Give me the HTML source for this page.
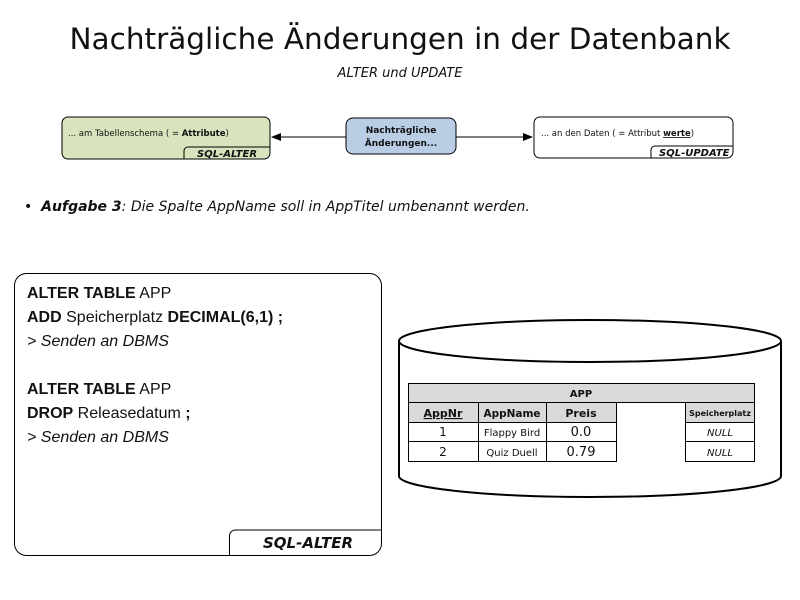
<!DOCTYPE html>
<html><head><meta charset="utf-8"><style>
body{margin:0;width:800px;height:600px;background:#fff;position:relative;overflow:hidden;font-family:"Liberation Sans",sans-serif}
.a{position:absolute}
.t{font-family:"DejaVu Sans","Liberation Sans",sans-serif}
.code{font-size:16px;line-height:24px;color:#111}
</style></head><body>
<div class="a t" style="left:0;top:22px;width:800px;text-align:center;font-size:29.5px;color:#111">Nachträgliche Änderungen in der Datenbank</div>
<div class="a t" style="left:0;top:66px;width:800px;text-align:center;font-size:13px;font-style:italic;color:#111">ALTER und UPDATE</div>

<svg class="a" style="left:0;top:0" width="800" height="600">
<defs><marker id="ar" markerWidth="10" markerHeight="8" refX="9" refY="4" orient="auto" markerUnits="userSpaceOnUse"><path d="M0,0L10,4L0,8z" fill="#000"/></marker></defs>
<rect x="62" y="117" width="208" height="42" rx="6" fill="#d7e4bd" stroke="#000"/>
<path d="M184,159V151a4,4 0 0 1 4,-4H270" fill="none" stroke="#000"/>
<rect x="346" y="118" width="110" height="36" rx="7" fill="#b9cde5" stroke="#000"/>
<rect x="534" y="117" width="199" height="41" rx="6" fill="#fff" stroke="#000"/>
<path d="M651,158V150a4,4 0 0 1 4,-4H733" fill="none" stroke="#000"/>
<line x1="346" y1="137" x2="272" y2="137" stroke="#000" marker-end="url(#ar)"/>
<line x1="456" y1="137" x2="532" y2="137" stroke="#000" marker-end="url(#ar)"/>
<rect x="14.5" y="273.5" width="367" height="282" rx="12" fill="#fff" stroke="#000"/>
<path d="M229.5,555V536a6,6 0 0 1 6,-6H381" fill="none" stroke="#000"/>
<path d="M399,341V476A191,21 0 0 0 781,476V341" fill="#fff" stroke="#000" stroke-width="2"/>
<ellipse cx="590" cy="341" rx="191" ry="21" fill="#fff" stroke="#000" stroke-width="2"/>
<rect x="408.5" y="383.5" width="346" height="19" fill="#d9d9d9" stroke="#000"/>
<rect x="408.5" y="402.5" width="70" height="20" fill="#d9d9d9" stroke="#000"/>
<rect x="478.5" y="402.5" width="68" height="20" fill="#d9d9d9" stroke="#000"/>
<rect x="546.5" y="402.5" width="70" height="20" fill="#d9d9d9" stroke="#000"/>
<rect x="685.5" y="402.5" width="69" height="20" fill="#d9d9d9" stroke="#000"/>
<rect x="408.5" y="422.5" width="70" height="19" fill="#fff" stroke="#000"/>
<rect x="478.5" y="422.5" width="68" height="19" fill="#fff" stroke="#000"/>
<rect x="546.5" y="422.5" width="70" height="19" fill="#fff" stroke="#000"/>
<rect x="685.5" y="422.5" width="69" height="19" fill="#fff" stroke="#000"/>
<rect x="408.5" y="441.5" width="70" height="20" fill="#fff" stroke="#000"/>
<rect x="478.5" y="441.5" width="68" height="20" fill="#fff" stroke="#000"/>
<rect x="546.5" y="441.5" width="70" height="20" fill="#fff" stroke="#000"/>
<rect x="685.5" y="441.5" width="69" height="20" fill="#fff" stroke="#000"/>
<g font-family="DejaVu Sans, sans-serif" text-anchor="middle" fill="#111">
<text x="581" y="397" font-size="10" font-weight="bold">APP</text>
<text x="443" y="417" font-size="11" font-weight="bold" text-decoration="underline">AppNr</text>
<text x="512" y="417" font-size="10.5" font-weight="bold">AppName</text>
<text x="581" y="417" font-size="11" font-weight="bold">Preis</text>
<text x="720" y="416" font-size="8" font-weight="bold">Speicherplatz</text>
<text x="443" y="436" font-size="12">1</text>
<text x="512" y="436" font-size="10">Flappy Bird</text>
<text x="581" y="436" font-size="13">0.0</text>
<text x="720" y="436" font-size="10" font-style="italic">NULL</text>
<text x="443" y="456" font-size="12">2</text>
<text x="512" y="456" font-size="10">Quiz Duell</text>
<text x="581" y="456" font-size="13">0.79</text>
<text x="720" y="456" font-size="10" font-style="italic">NULL</text>
<text x="401" y="133" font-size="9" font-weight="bold">Nachträgliche</text>
<text x="401" y="146" font-size="9" font-weight="bold">Änderungen...</text>
</g>
<g font-family="DejaVu Sans, sans-serif" fill="#111">
<text x="68" y="136" font-size="8.5">... am Tabellenschema ( = <tspan font-weight="bold">Attribute</tspan>)</text>
<text x="197" y="157" font-size="10" font-weight="bold" font-style="italic">SQL-ALTER</text>
<text x="541" y="136" font-size="8.5">... an den Daten ( = Attribut <tspan font-weight="bold" text-decoration="underline">werte</tspan>)</text>
<text x="659" y="156" font-size="10" font-weight="bold" font-style="italic">SQL-UPDATE</text>
<text x="263" y="548" font-size="15" font-weight="bold" font-style="italic">SQL-ALTER</text>
</g>
</svg>

<div class="a t" style="left:24px;top:199px;font-size:14px;color:#111">•&nbsp;&nbsp;<i><b>Aufgabe 3</b>: Die Spalte AppName soll in AppTitel umbenannt werden.</i></div>

<div class="a code" style="left:27px;top:282px">
<div><b>ALTER TABLE</b> APP</div>
<div><b>ADD</b> Speicherplatz <b>DECIMAL(6,1) ;</b></div>
<div><i>&gt; Senden an DBMS</i></div>
<div>&nbsp;</div>
<div><b>ALTER TABLE</b> APP</div>
<div><b>DROP</b> Releasedatum <b>;</b></div>
<div><i>&gt; Senden an DBMS</i></div>
</div>
</body></html>
